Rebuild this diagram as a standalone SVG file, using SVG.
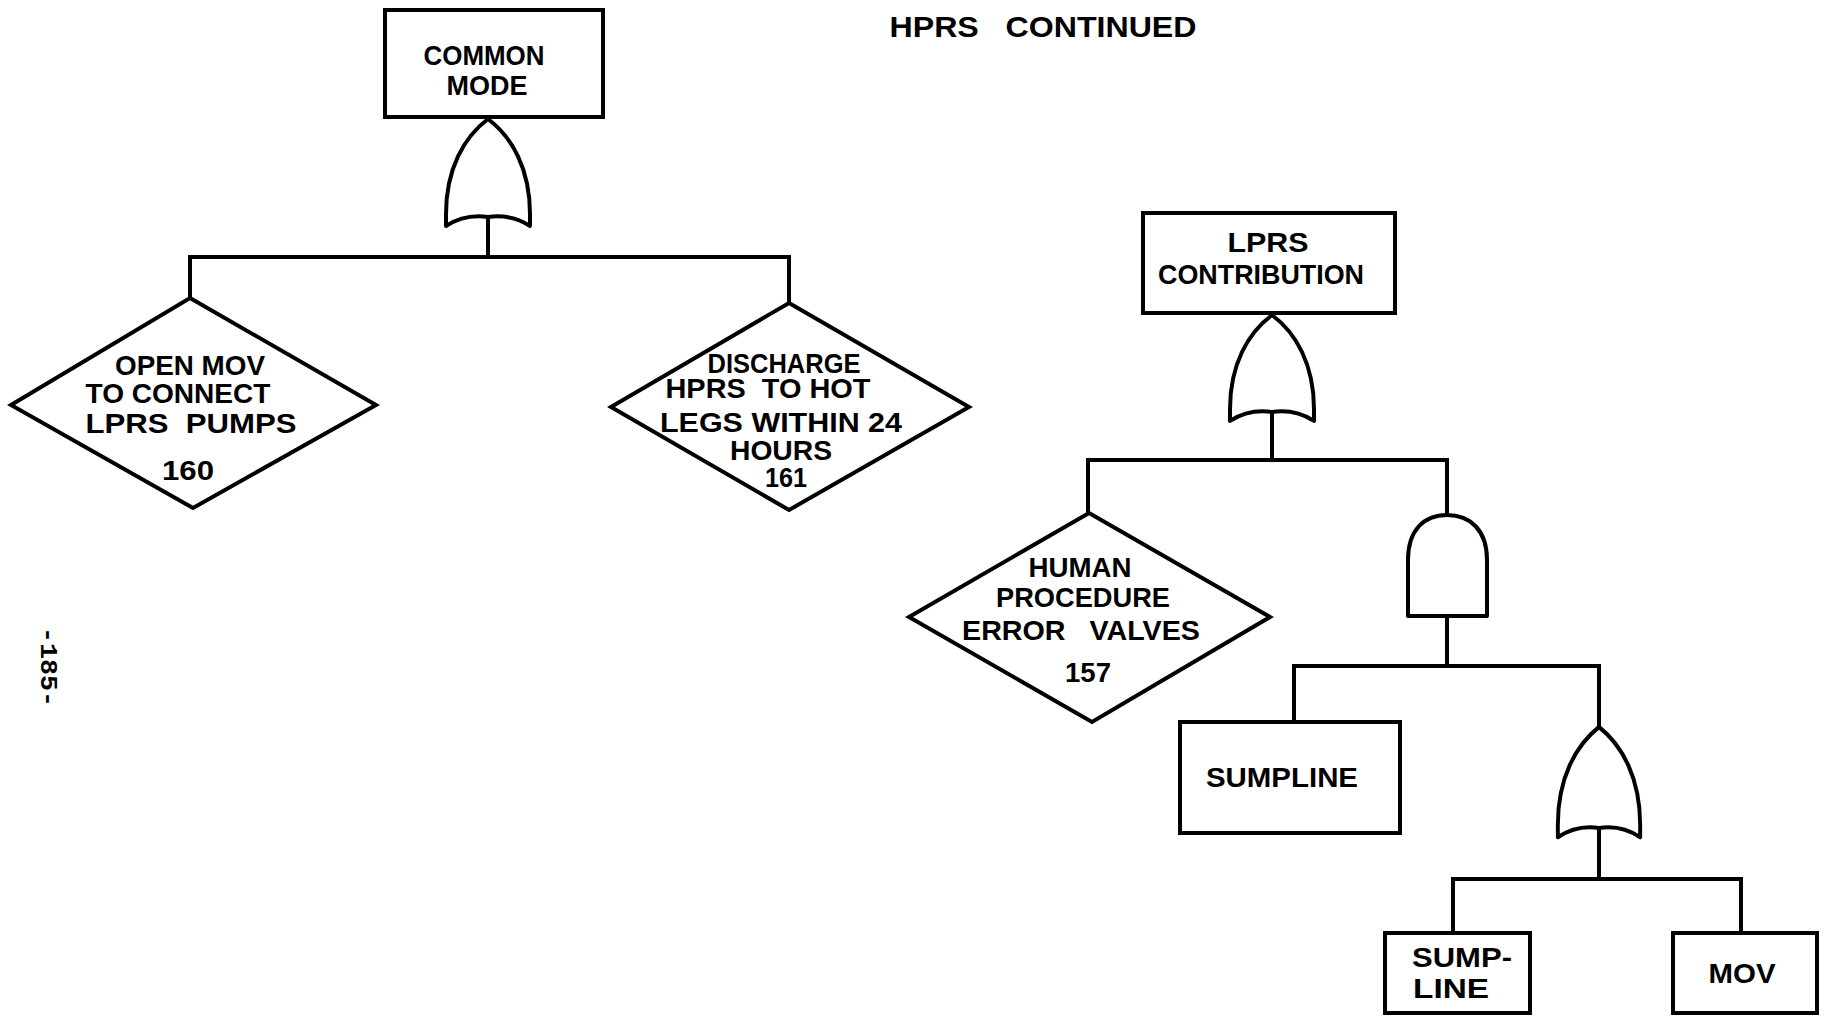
<svg xmlns="http://www.w3.org/2000/svg" width="1828" height="1021" viewBox="0 0 1828 1021">
  <style>
    .box { fill: #fff; stroke: #000; stroke-width: 4; stroke-linejoin: miter; }
    .gate { fill: #fff; stroke: #000; stroke-width: 4; stroke-linejoin: round; }
    .wire { fill: none; stroke: #000; stroke-width: 4; stroke-linecap: square; stroke-linejoin: miter; }
    .lbl { font-family: "Liberation Sans", Arial, sans-serif; font-weight: bold; font-size: 28px; text-anchor: middle; fill: #000; white-space: pre; }
    .title { font-size: 30px; }
    .pg { font-family: "Liberation Mono", "Courier New", monospace; font-weight: bold; font-size: 24px; text-anchor: middle; fill: #000; }
  </style>
  <defs>
    <!-- OR gate, apex at (0,0), 84 wide -->
    <path id="orGate" d="M0,0 C-24,18 -42,50 -42,95 L-42,107 C-28,98 -14,96 0,98 C14,96 28,98 42,107 L42,95 C42,50 24,18 0,0 Z"/>
  </defs>

  <rect x="0" y="0" width="1828" height="1021" fill="#fff"/>

  <text class="lbl title" x="1043" y="37" textLength="307" lengthAdjust="spacingAndGlyphs">HPRS   CONTINUED</text>
  <text class="pg" transform="translate(41,667) rotate(90)" textLength="80" lengthAdjust="spacingAndGlyphs">-185-</text>

  <!-- connectors -->
  <g id="connectors">
    <path class="wire" d="M488,218 V257 M190,257 H789 M190,257 V298 M789,257 V303"/>
    <path class="wire" d="M1272,412 V460 M1088,460 H1447 M1088,460 V513 M1447,460 V515"/>
    <path class="wire" d="M1447,616 V666 M1294,666 H1599 M1294,666 V722 M1599,666 V727"/>
    <path class="wire" d="M1599,830 V879 M1453,879 H1741 M1453,879 V933 M1741,879 V933"/>
  </g>

  <!-- top event -->
  <g id="common-mode">
    <rect class="box" x="385" y="10" width="218" height="107"/>
    <text class="lbl" x="484" y="65" textLength="121" lengthAdjust="spacingAndGlyphs">COMMON</text>
    <text class="lbl" x="487" y="95" textLength="81" lengthAdjust="spacingAndGlyphs">MODE</text>
  </g>
  <g id="or-common-mode">
    <use href="#orGate" class="gate" transform="translate(488,119)"/>
  </g>

  <g id="event-160">
    <polygon class="box" points="190,298 376,405 193,508 11,405"/>
    <text class="lbl" x="190" y="375" textLength="150" lengthAdjust="spacingAndGlyphs">OPEN MOV</text>
    <text class="lbl" x="178" y="403" textLength="185" lengthAdjust="spacingAndGlyphs">TO CONNECT</text>
    <text class="lbl" x="191" y="433" textLength="211" lengthAdjust="spacingAndGlyphs">LPRS  PUMPS</text>
    <text class="lbl" x="188" y="480" textLength="52" lengthAdjust="spacingAndGlyphs">160</text>
  </g>

  <g id="event-161">
    <polygon class="box" points="789,303 969,407 789,510 611,407"/>
    <text class="lbl" x="784" y="373" textLength="153" lengthAdjust="spacingAndGlyphs">DISCHARGE</text>
    <text class="lbl" x="768" y="398" textLength="205" lengthAdjust="spacingAndGlyphs">HPRS  TO HOT</text>
    <text class="lbl" x="781" y="432" textLength="242" lengthAdjust="spacingAndGlyphs">LEGS WITHIN 24</text>
    <text class="lbl" x="781" y="460" textLength="102" lengthAdjust="spacingAndGlyphs">HOURS</text>
    <text class="lbl" x="786" y="487" textLength="42" lengthAdjust="spacingAndGlyphs">161</text>
  </g>

  <!-- LPRS branch -->
  <g id="lprs-contribution">
    <rect class="box" x="1143" y="213" width="252" height="100"/>
    <text class="lbl" x="1268" y="252" textLength="81" lengthAdjust="spacingAndGlyphs">LPRS</text>
    <text class="lbl" x="1261" y="284" textLength="206" lengthAdjust="spacingAndGlyphs">CONTRIBUTION</text>
  </g>
  <g id="or-lprs">
    <use href="#orGate" class="gate" transform="translate(1272,315) scale(1,0.99)"/>
  </g>

  <g id="event-157">
    <polygon class="box" points="1089,513 1270,617 1092,722 909,617"/>
    <text class="lbl" x="1080" y="577" textLength="103" lengthAdjust="spacingAndGlyphs">HUMAN</text>
    <text class="lbl" x="1083" y="607" textLength="174" lengthAdjust="spacingAndGlyphs">PROCEDURE</text>
    <text class="lbl" x="1081" y="640" textLength="238" lengthAdjust="spacingAndGlyphs">ERROR   VALVES</text>
    <text class="lbl" x="1088" y="682" textLength="46" lengthAdjust="spacingAndGlyphs">157</text>
  </g>

  <g id="and-gate">
    <path class="gate" d="M1408,616 L1408,560 C1408,530 1424,515 1447,515 C1470,515 1487,530 1487,560 L1487,616 Z"/>
  </g>

  <g id="sumpline">
    <rect class="box" x="1180" y="722" width="220" height="111"/>
    <text class="lbl" x="1282" y="787" textLength="152" lengthAdjust="spacingAndGlyphs">SUMPLINE</text>
  </g>

  <g id="or-sump">
    <use href="#orGate" class="gate" transform="translate(1599,727) scale(0.98,1.03)"/>
  </g>

  <g id="sump-line">
    <rect class="box" x="1385" y="933" width="145" height="80"/>
    <text class="lbl" x="1462" y="967" textLength="100" lengthAdjust="spacingAndGlyphs">SUMP-</text>
    <text class="lbl" x="1451" y="998" textLength="76" lengthAdjust="spacingAndGlyphs">LINE</text>
  </g>

  <g id="mov">
    <rect class="box" x="1673" y="933" width="144" height="80"/>
    <text class="lbl" x="1742" y="983" textLength="67" lengthAdjust="spacingAndGlyphs">MOV</text>
  </g>
</svg>
